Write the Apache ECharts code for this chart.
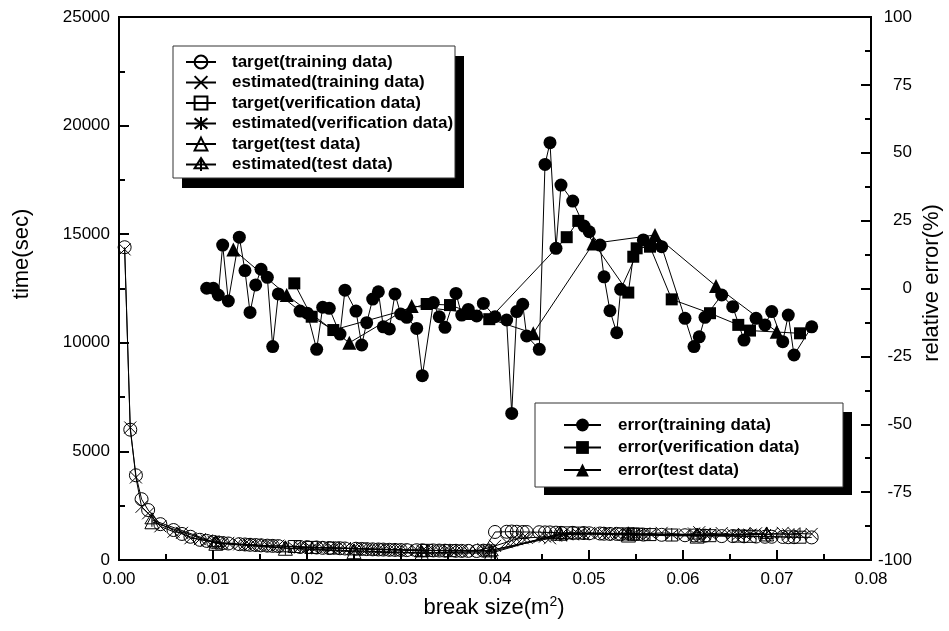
<!DOCTYPE html>
<html><head><meta charset="utf-8">
<script src="https://cdn.jsdelivr.net/npm/echarts@6/dist/echarts.min.js"></script>
<style>html,body{margin:0;padding:0;background:#fff}#c{width:949px;height:631px}</style>
</head><body><div id="c"></div>
<script>
// ---------- DATA ----------
const xTicks = [0.00,0.01,0.02,0.03,0.04,0.05,0.06,0.07,0.08];
const timeTicks = [0,5000,10000,15000,20000,25000];
const errTicks = [-100,-75,-50,-25,0,25,50,75,100];

// training data break sizes (m^2)
const trainSmallX = [0.0006,0.0012,0.0018,0.0024,0.0031,0.0044,0.0058,0.0067,0.0076,0.0086];
const errTrainX = [0.00933,0.01003,0.01056,0.01103,0.01163,0.01280,0.01340,0.01394,0.01454,0.01511,
  0.01578,0.01635,0.01695,0.01926,0.02003,0.02103,0.02167,0.02237,0.02351,0.02404,
  0.02521,0.02582,0.02635,0.02699,0.02759,0.02812,0.02876,0.02936,0.02997,0.03061,
  0.03167,0.03227,0.03344,0.03407,0.03468,0.03585,0.03646,0.03716,0.03805,0.03876,
  0.04000,0.04124,0.04178,0.04231,0.04295,0.04337,0.04471,0.04532,0.04585,0.04649,
  0.04702,0.04827,0.04947,0.05003,0.05117,0.05160,0.05223,0.05295,0.05337,0.05578,
  0.05773,0.06021,0.06117,0.06173,0.06234,0.06412,0.06529,0.06649,0.06777,0.06872,
  0.06944,0.07061,0.07120,0.07181,0.07369];
const errTrain = [0.1,0.1,-2.4,16.0,-4.6,18.9,6.6,-8.8,1.3,7.1,
  4.1,-21.4,-2.0,-8.3,-9.1,-22.4,-6.9,-7.3,-16.8,-0.6,
  -8.3,-20.8,-12.6,-3.9,-1.2,-14.1,-14.9,-2.0,-9.4,-10.6,
  -14.7,-32.1,-5.2,-10.4,-14.3,-1.8,-9.8,-7.7,-10.1,-5.5,
  -10.4,-11.6,-46.0,-8.5,-5.8,-17.5,-22.4,45.7,53.7,14.8,
  38.1,32.2,23.0,20.9,16.0,4.3,-8.2,-16.3,-0.3,17.9,
  15.4,-11.0,-21.4,-17.8,-10.6,-2.4,-6.7,-19.0,-11.0,-13.4,
  -8.5,-19.6,-9.8,-24.5,-14.1];
const timeTrainTarget = [14400,6000,3900,2800,2300,1650,1380,1200,1070,930,
  880,830,800,780,760,730,715,700,690,675,
  660,650,640,600,590,575,560,550,540,530,
  520,510,500,490,485,480,470,465,460,455,
  450,445,440,435,430,425,420,420,415,430,
  1290,1300,1310,1300,1290,1290,1280,1270,1270,1260,
  1250,1250,1240,1230,1220,1210,1200,1200,1190,1170,
  1160,1140,1130,1120,1120,1100,1100,1090,1080,1070,
  1070,1060,1050,1050,1040];
const timeTrainEst = [14300,6100,3800,2450,2150,1550,1300,1250,1000,960,
  900,850,820,760,790,720,740,690,710,660,
  680,640,660,610,580,590,550,570,530,550,
  510,520,490,500,480,470,480,450,470,440,
  460,430,450,420,440,410,430,400,430,500,
  650,820,900,960,1000,1020,1050,1080,1000,1120,
  1150,1180,1200,1250,1230,1200,1250,1180,1220,1200,
  1250,1180,1220,1280,1200,1240,1180,1200,1230,1150,
  1200,1250,1180,1220,1200];

// verification data
const verX = [0.01865,0.02050,0.02280,0.03273,0.03521,0.03939,0.04763,0.04886,0.05418,0.05471,0.05507,0.05649,0.05880,0.06287,0.06588,0.06713,0.07245];
const errVer = [1.9,-10.4,-15.3,-5.7,-6.1,-11.3,18.9,24.9,-1.5,11.7,14.8,15.4,-4.0,-9.1,-13.4,-15.5,-16.5];
const timeVerTarget = [620,580,550,445,430,420,1250,1240,1200,1190,1190,1170,1150,1120,1100,1090,1050];
const timeVerEst = [600,560,560,430,450,440,1150,1220,1230,1210,1180,1200,1170,1180,1150,1200,1180];

// test data
const testTimeX = [0.0035,0.0103,0.0177,0.0250,0.0322,0.0396,0.0469,0.0542,0.0615,0.0689];
const timeTestTarget = [1760,770,540,380,310,320,1230,1150,1100,1200];
const timeTestEst = [1850,800,560,420,330,380,1180,1200,1150,1180];
const errTestX = [0.01216,0.01784,0.02450,0.03114,0.03755,0.04407,0.05046,0.05702,0.06351,0.06997];
const errTest = [14.4,-2.4,-20.0,-6.4,-9.0,-16.5,16.6,19.7,0.9,-15.9];

const timeNames = ['target(training data)','estimated(training data)','target(verification data)',
  'estimated(verification data)','target(test data)','estimated(test data)'];
const errNames = ['error(training data)','error(verification data)','error(test data)'];

// ---------- CHART ----------
const FONT = '"Liberation Sans", Arial, Helvetica, sans-serif';
const zip = (xs, ys) => xs.map((x, i) => [x, ys[i]]);
const trainX = trainSmallX.concat(errTrainX);

const hollow = {color: 'rgba(0,0,0,0)', borderColor: '#000', borderWidth: 1};
const solid = {color: '#000', borderWidth: 0};
function mk(name, data, symbol, size, yIndex, style, z) {
  return {
    name, type: 'line', xAxisIndex: 0, yAxisIndex: yIndex, data,
    symbol, symbolSize: size, showSymbol: true, showAllSymbol: true,
    lineStyle: {color: '#000', width: 1}, itemStyle: style,
    emphasis: {disabled: true}, z: z, clip: false
  };
}
const SYM_X = 'path://M0,0L10,10M10,0L0,10';
const SYM_AST = 'path://M0,1L10,9M10,1L0,9M5,0L5,10';
const SYM_TRIBAR = 'path://M5,0L10,8.66L0,8.66ZM5,0L5,11';

const series = [
  mk(timeNames[0], zip(trainX, timeTrainTarget), 'circle', 13, 0, hollow, 2),
  mk(timeNames[1], zip(trainX, timeTrainEst), SYM_X, 12, 0, hollow, 2),
  mk(timeNames[2], zip(verX, timeVerTarget), 'rect', 12, 0, hollow, 2),
  mk(timeNames[3], zip(verX, timeVerEst), SYM_AST, 13, 0, hollow, 2),
  mk(timeNames[4], zip(testTimeX, timeTestTarget), 'triangle', 14, 0, hollow, 2),
  mk(timeNames[5], zip(testTimeX, timeTestEst), SYM_TRIBAR, 14, 0, hollow, 2),
  mk(errNames[0], zip(errTrainX, errTrain), 'circle', 13, 1, solid, 3),
  mk(errNames[1], zip(verX, errVer), 'rect', 12, 1, solid, 3),
  mk(errNames[2], zip(errTestX, errTest), 'triangle', 14, 1, solid, 3)
];

const tickStyle = {color: '#000', width: 2};
const labelStyle = {fontFamily: FONT, fontSize: 17, color: '#000'};

const chart = echarts.init(document.getElementById('c'), null, {renderer: 'canvas'});
chart.setOption({
  animation: false,
  backgroundColor: '#fff',
  grid: {left: 119, right: 78, top: 17, bottom: 71, show: true, borderColor: '#000', borderWidth: 2, backgroundColor: 'rgba(0,0,0,0)'},
  xAxis: {
    type: 'value', min: xTicks[0], max: xTicks[xTicks.length - 1], interval: 0.01,
    axisLine: {show: true, onZero: false, lineStyle: tickStyle},
    axisTick: {show: true, inside: true, length: 10, lineStyle: tickStyle},
    minorTick: {show: true, splitNumber: 2, length: 6, lineStyle: tickStyle},
    splitLine: {show: false},
    axisLabel: Object.assign({margin: 11, formatter: v => v.toFixed(2), showMinLabel: true, showMaxLabel: true}, labelStyle)
  },
  yAxis: [
    {
      type: 'value', position: 'left', min: timeTicks[0], max: timeTicks[timeTicks.length - 1], interval: 5000,
      axisLine: {show: true, onZero: false, lineStyle: tickStyle},
      axisTick: {show: true, inside: true, length: 10, lineStyle: tickStyle},
      minorTick: {show: true, splitNumber: 2, length: 6, lineStyle: tickStyle},
      splitLine: {show: false},
      axisLabel: Object.assign({margin: 9, formatter: v => String(v)}, labelStyle)
    },
    {
      type: 'value', position: 'right', min: errTicks[0], max: errTicks[errTicks.length - 1], interval: 25,
      axisLine: {show: true, onZero: false, lineStyle: tickStyle},
      axisTick: {show: true, inside: true, length: 10, lineStyle: tickStyle},
      minorTick: {show: true, splitNumber: 2, length: 6, lineStyle: tickStyle},
      splitLine: {show: false},
      axisLabel: Object.assign({margin: 41, align: 'right', formatter: v => String(v)}, labelStyle)
    }
  ],
  legend: [
    {
      data: timeNames, orient: 'vertical', left: 185, top: 53, padding: 0,
      itemWidth: 30, itemHeight: 16, itemGap: 2.5, selectedMode: false, z: 10,
      textStyle: {fontFamily: FONT, fontWeight: 'bold', fontSize: 17, color: '#000', lineHeight: 18, padding: [0, 0, 0, 11]}
    },
    {
      data: errNames, orient: 'vertical', left: 563, top: 416, padding: 0,
      itemWidth: 37, itemHeight: 16, itemGap: 4.5, selectedMode: false, z: 10,
      textStyle: {fontFamily: FONT, fontWeight: 'bold', fontSize: 17, color: '#000', lineHeight: 18, padding: [0, 0, 0, 12]}
    }
  ],
  graphic: [
    {type: 'rect', z: 5, shape: {x: 182, y: 56, width: 282, height: 132}, style: {fill: '#000'}, silent: true},
    {type: 'rect', z: 6, shape: {x: 173, y: 46, width: 282, height: 132}, style: {fill: '#fff', stroke: '#333', lineWidth: 1}, silent: true},
    {type: 'rect', z: 5, shape: {x: 544, y: 412, width: 308, height: 83}, style: {fill: '#000'}, silent: true},
    {type: 'rect', z: 6, shape: {x: 535, y: 403, width: 308, height: 84}, style: {fill: '#fff', stroke: '#333', lineWidth: 1}, silent: true},
    {type: 'text', z: 10, x: 22, y: 254, rotation: Math.PI / 2,
      style: {text: 'time(sec)', fontFamily: FONT, fontSize: 22, fill: '#000', align: 'center', verticalAlign: 'middle'}},
    {type: 'text', z: 10, x: 932, y: 283, rotation: Math.PI / 2,
      style: {text: 'relative error(%)', fontFamily: FONT, fontSize: 22, fill: '#000', align: 'center', verticalAlign: 'middle'}},
    {type: 'text', z: 10, x: 494, y: 608,
      style: {text: '{a|break size(m}{b|2}{a|)}', align: 'center', verticalAlign: 'middle',
        rich: {a: {fontFamily: FONT, fontSize: 22, fill: '#000', lineHeight: 26},
               b: {fontFamily: FONT, fontSize: 14, fill: '#000', verticalAlign: 'top', lineHeight: 26}}}}
  ],
  series: series
});
</script>
</body></html>
